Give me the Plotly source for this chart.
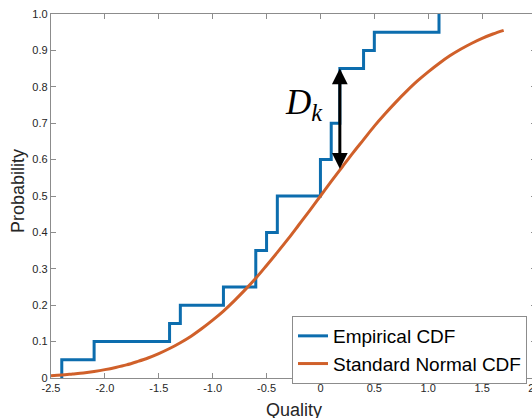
import plotly.graph_objects as go

# Empirical CDF (step positions and probabilities after each step)
emp_x = [-2.4, -2.4, -2.1, -1.4, -1.3, -0.9, -0.6, -0.5, -0.4, 0.0, 0.1, 0.18, 0.4, 0.5, 1.1]
emp_y = [0.0, 0.05, 0.10, 0.15, 0.20, 0.25, 0.35, 0.40, 0.50, 0.60, 0.70, 0.85, 0.90, 0.95, 1.00]

# Standard normal CDF curve
norm_x = [-2.5, -2.4, -2.3, -2.2, -2.1, -2.0, -1.9, -1.8, -1.7, -1.6, -1.5, -1.4, -1.3, -1.2,
          -1.1, -1.0, -0.9, -0.8, -0.7, -0.6, -0.5, -0.4, -0.3, -0.2, -0.1, 0.0, 0.1, 0.2,
          0.3, 0.4, 0.5, 0.6, 0.7, 0.8, 0.9, 1.0, 1.1, 1.2, 1.3, 1.4, 1.5, 1.6, 1.7]
norm_y = [0.006, 0.008, 0.011, 0.014, 0.018, 0.023, 0.029, 0.036, 0.045, 0.055, 0.067, 0.081,
          0.097, 0.115, 0.136, 0.159, 0.184, 0.212, 0.242, 0.274, 0.309, 0.345, 0.382, 0.421,
          0.460, 0.500, 0.540, 0.579, 0.618, 0.655, 0.692, 0.726, 0.758, 0.788, 0.816, 0.841,
          0.864, 0.885, 0.903, 0.919, 0.933, 0.945, 0.955]

# Arrow marking the maximum distance D_k
dk_x = 0.18
dk_top = 0.85
dk_bottom = 0.571

x_ticks = [-2.5, -2.0, -1.5, -1.0, -0.5, 0.0, 0.5, 1.0, 1.5, 2.0]
x_ticktext = ["-2.5", "-2.0", "-1.5", "-1.0", "-0.5", "0", "0.5", "1.0", "1.5", "2.0"]
y_ticks = [0.0, 0.1, 0.2, 0.3, 0.4, 0.5, 0.6, 0.7, 0.8, 0.9, 1.0]
y_ticktext = ["0", "0.1", "0.2", "0.3", "0.4", "0.5", "0.6", "0.7", "0.8", "0.9", "1.0"]

BLUE = "#0C6DAE"
ORANGE = "#D0602A"
AXIS = "#8C8C8C"
TXT = "#262626"

W, H = 536, 418
L, R, T, B = 51, 0, 14, 40
PW = W - L - R
PH = H - T - B

fig = go.Figure()
fig.add_trace(go.Scatter(x=emp_x, y=emp_y, mode="lines", line_shape="hv",
                         line=dict(color=BLUE, width=3), name="Empirical CDF"))
fig.add_trace(go.Scatter(x=norm_x, y=norm_y, mode="lines", line_shape="spline",
                         line=dict(color=ORANGE, width=3), name="Standard Normal CDF"))

fig.add_annotation(x=dk_x, y=dk_top, ax=dk_x, ay=dk_bottom, xref="x", yref="y",
                   axref="x", ayref="y", text="", showarrow=True,
                   arrowhead=2, startarrowhead=2, arrowside="end+start",
                   arrowwidth=3, arrowsize=1.05, startarrowsize=1.05, arrowcolor="black",
                   standoff=0, startstandoff=0)
fig.add_annotation(x=-0.15, y=0.752, xref="x", yref="y", showarrow=False,
                   text="<i>D</i><sub><i>k</i></sub>",
                   font=dict(family="Liberation Serif", size=35, color="black"),
                   xanchor="center", yanchor="middle")

fig.add_annotation(x=(294 - L) / PW, y=(H - B - 410) / PH, xref="paper", yref="paper",
                   text="Quality", showarrow=False, xanchor="center", yanchor="middle",
                   font=dict(family="Liberation Sans", size=18, color=TXT))
fig.add_annotation(x=(18 - L) / PW, y=(H - B - 191) / PH, xref="paper", yref="paper",
                   text="Probability", showarrow=False, textangle=-90,
                   xanchor="center", yanchor="middle",
                   font=dict(family="Liberation Sans", size=18, color=TXT))

axis_common = dict(showline=True, linecolor=AXIS, linewidth=1.3, mirror="ticks",
                   ticks="inside", ticklen=5, tickwidth=1, tickcolor=AXIS,
                   showgrid=False, zeroline=False, automargin=False,
                   ticklabeloverflow="allow",
                   tickfont=dict(family="Liberation Sans", size=11, color=TXT))

fig.update_xaxes(range=[-2.5, 2.0], tickvals=x_ticks, ticktext=x_ticktext, **axis_common)
fig.update_yaxes(range=[0, 1], tickvals=y_ticks, ticktext=y_ticktext, **axis_common)

fig.update_layout(
    width=W, height=H,
    margin=dict(l=L, r=R, t=T, b=B),
    plot_bgcolor="white", paper_bgcolor="white",
    font=dict(family="Liberation Sans", color=TXT),
    showlegend=True,
    legend=dict(x=(292 - L) / PW, y=(H - B - 316) / PH, xanchor="left", yanchor="top",
                bgcolor="white", bordercolor=AXIS, borderwidth=1,
                font=dict(family="Liberation Sans", size=19, color="black"),
                tracegroupgap=0),
)

fig.write_html("out.html", config={"displayModeBar": False},
               post_script="document.body.style.margin='0px';document.body.style.overflow='hidden';")
